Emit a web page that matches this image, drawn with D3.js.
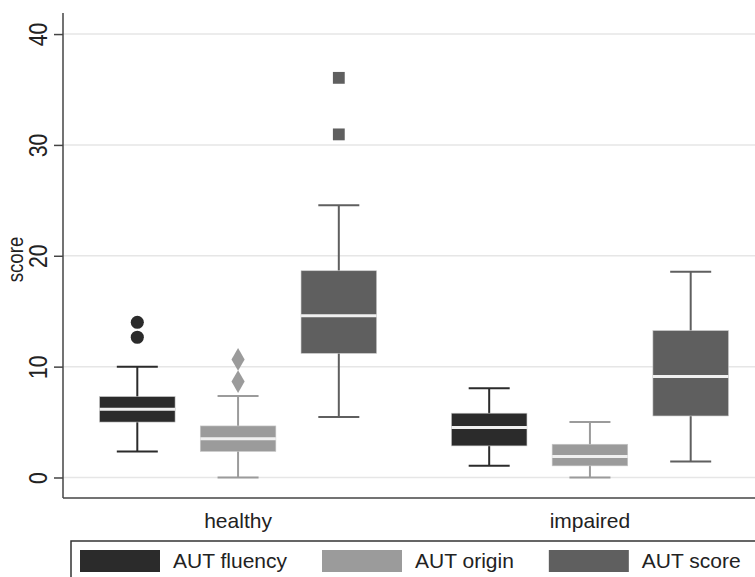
<!DOCTYPE html>
<html>
<head>
<meta charset="utf-8">
<script src="https://cdn.jsdelivr.net/npm/d3@7"></script>
<style>
  body { margin: 0; background: #fff; }
  svg { display: block; font-family: "Liberation Sans", Arial, sans-serif; }
</style>
</head>
<body>
<svg id="chart" width="755" height="577"></svg>
<script>
// data
const groups = ["healthy", "impaired"];
const series = ["AUT fluency", "AUT origin", "AUT score"];
const colors = ["#2b2b2b", "#9b9b9b", "#5f5f5f"];
const yTicks = [0, 10, 20, 30, 40];

// one row per group, one value per series
const whiskerLow  = [[2.35, 0, 5.45], [1.05, 0, 1.45]];
const q1          = [[5.0, 2.35, 11.2], [2.85, 1.05, 5.55]];
const median      = [[6.15, 3.5, 14.6], [4.5, 1.9, 9.1]];
const q3          = [[7.3, 4.65, 18.65], [5.8, 3.0, 13.25]];
const whiskerHigh = [[10, 7.35, 24.55], [8.05, 5.0, 18.55]];
const outliers    = [[[12.65, 14.0], [8.65, 10.65], [30.95, 36.05]], [[], [], []]];

const svg = d3.select("#chart");
const pLeft = 63, pRight = 765, pTop = 13, pBottom = 498;

const y = d3.scaleLinear().domain([-1.85, 41.9]).range([pBottom, pTop]);
const x0 = d3.scaleBand().domain(groups).range([pLeft, pRight])
    .paddingInner(0.141).paddingOuter(0.068);
const x1 = d3.scaleBand().domain(series).range([0, x0.bandwidth()])
    .paddingInner(0.25).paddingOuter(0.125);

// grid
svg.append("g").selectAll("line").data(yTicks).enter().append("line")
    .attr("x1", pLeft).attr("x2", pRight)
    .attr("y1", d => y(d)).attr("y2", d => y(d))
    .attr("stroke", "#e6e6e6").attr("stroke-width", 1.5);

// y axis
const yAxis = svg.append("g")
    .attr("transform", "translate(" + pLeft + ",0)")
    .call(d3.axisLeft(y).tickValues(yTicks).tickSize(9).tickPadding(0));
yAxis.select(".domain").attr("stroke", "#444").attr("stroke-width", 1.5)
    .attr("d", "M0," + pTop + "V" + pBottom);
yAxis.selectAll(".tick line").attr("stroke", "#444").attr("stroke-width", 1.5);
yAxis.selectAll(".tick text")
    .attr("x", 0).attr("y", 0).attr("dy", 0)
    .attr("transform", "translate(-16,0) rotate(-90) scale(0.85,1)")
    .attr("text-anchor", "middle")
    .attr("font-size", 25).attr("fill", "#222");

svg.append("text")
    .attr("transform", "translate(23," + ((pTop + pBottom) / 2 + 4) + ") rotate(-90) scale(0.85,1)")
    .attr("text-anchor", "middle")
    .attr("font-size", 22).attr("fill", "#222")
    .text("score");

// x axis line
svg.append("line")
    .attr("x1", pLeft).attr("x2", pRight)
    .attr("y1", pBottom).attr("y2", pBottom)
    .attr("stroke", "#444").attr("stroke-width", 1.5);

// group labels
svg.append("g").selectAll("text").data(groups).enter().append("text")
    .attr("x", d => x0(d) + x0.bandwidth() / 2)
    .attr("y", 528)
    .attr("text-anchor", "middle")
    .attr("font-size", 21).attr("fill", "#222")
    .text(d => d);

// boxes
const bw = x1.bandwidth();
const capW = 41;
const boxes = [];
groups.forEach((g, gi) => {
  series.forEach((s, si) => {
    boxes.push({g, s, gi, si,
      cx: x0(g) + x1(s) + bw / 2,
      lo: whiskerLow[gi][si], q1: q1[gi][si], med: median[gi][si],
      q3: q3[gi][si], hi: whiskerHigh[gi][si], out: outliers[gi][si]});
  });
});

const bx = svg.append("g").selectAll("g").data(boxes).enter().append("g");

// whiskers
bx.append("line")
    .attr("x1", d => d.cx).attr("x2", d => d.cx)
    .attr("y1", d => y(d.lo)).attr("y2", d => y(d.hi))
    .attr("stroke", d => colors[d.si]).attr("stroke-width", 2);
bx.append("line")
    .attr("x1", d => d.cx - capW / 2).attr("x2", d => d.cx + capW / 2)
    .attr("y1", d => y(d.lo)).attr("y2", d => y(d.lo))
    .attr("stroke", d => colors[d.si]).attr("stroke-width", 2);
bx.append("line")
    .attr("x1", d => d.cx - capW / 2).attr("x2", d => d.cx + capW / 2)
    .attr("y1", d => y(d.hi)).attr("y2", d => y(d.hi))
    .attr("stroke", d => colors[d.si]).attr("stroke-width", 2);

// box
bx.append("rect")
    .attr("x", d => d.cx - bw / 2).attr("width", bw)
    .attr("y", d => y(d.q3)).attr("height", d => y(d.q1) - y(d.q3))
    .attr("fill", d => colors[d.si])
    .attr("stroke", "#c8c8c8").attr("stroke-width", 0.6);

// median
bx.append("line")
    .attr("x1", d => d.cx - bw / 2).attr("x2", d => d.cx + bw / 2)
    .attr("y1", d => y(d.med)).attr("y2", d => y(d.med))
    .attr("stroke", "#f0f0f0").attr("stroke-width", 3);

// outliers: circle, diamond, square
const shapes = [d3.symbolCircle, d3.symbolDiamond, d3.symbolSquare];
const sizes = [135, 150, 140];
bx.each(function(d) {
  d3.select(this).selectAll("path.out").data(d.out).enter().append("path")
      .attr("class", "out")
      .attr("transform", v => "translate(" + d.cx + "," + y(v) + ")")
      .attr("d", d3.symbol().type(shapes[d.si]).size(sizes[d.si]))
      .attr("fill", colors[d.si]);
});

// legend
const legend = svg.append("g");
legend.append("rect")
    .attr("x", 71).attr("y", 541).attr("width", 720).attr("height", 60)
    .attr("fill", "#fff").attr("stroke", "#333").attr("stroke-width", 1.5);
let lx = 80;
series.forEach((s, i) => {
  legend.append("rect")
      .attr("x", lx).attr("y", 550).attr("width", 80).attr("height", 22)
      .attr("fill", colors[i]);
  const t = legend.append("text")
      .attr("x", lx + 93).attr("y", 568)
      .attr("font-size", 21).attr("fill", "#222")
      .text(s);
  lx = lx + 93 + t.node().getComputedTextLength() + 35;
});
</script>
</body>
</html>
